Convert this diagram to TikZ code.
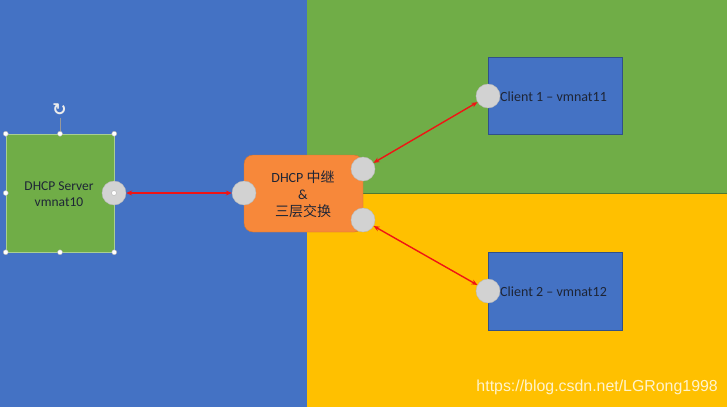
\documentclass[tikz,border=0pt]{standalone}
\usepackage{fontspec}
\setmainfont{Carlito}
\newfontfamily\cjk{Noto Sans CJK SC}
\newfontfamily\wm{Liberation Sans}
\newfontfamily\djv{DejaVu Sans}
\usetikzlibrary{arrows.meta}
\definecolor{bgblue}{HTML}{4472C4}
\definecolor{bggreen}{HTML}{70AD47}
\definecolor{bgyellow}{HTML}{FFC000}
\definecolor{orangebox}{HTML}{F7883A}
\definecolor{portgray}{HTML}{D2D2D2}
\definecolor{txt}{HTML}{1E2536}
\tikzset{
  port/.style={circle, fill=portgray, draw=gray!55, line width=0.4pt, minimum size=24pt, inner sep=0pt},
  handle/.style={circle, fill=white, draw=gray!60, line width=0.4pt, minimum size=5pt, inner sep=0pt},
  link/.style={draw={rgb,255:red,240;green,20;blue,20}, line width=1.4pt, {Stealth[length=6pt,width=5pt]}-{Stealth[length=6pt,width=5pt]}},
  lbl/.style={text=txt, font=\fontsize{14}{17}\selectfont, align=center},
}
\begin{document}
\begin{tikzpicture}[x=1pt,y=-1pt]
\useasboundingbox (0,0) rectangle (727,407);
% backgrounds
\fill[bgblue] (0,0) rectangle (307,407);
\fill[bggreen] (307,0) rectangle (727,193);
\fill[bgyellow] (307,193) rectangle (727,407);
\draw[bggreen!70!black, line width=0.4pt] (307,193) -- (727,193);
% DHCP server box
\node[draw=bggreen!60!white, line width=0.5pt, fill=bggreen, minimum width=108pt, minimum height=118pt, inner sep=0pt] (srv) at (60,193) {};
\node[lbl, font=\fontsize{13.5}{16}\selectfont] (srvt) at (59,194) {DHCP Server\\vmnat10};
\coordinate (rot) at (59.5,110);
\draw[gray!80, line width=0.5pt] (srv.north) -- ++(0,-16);
\node[text=white!85!gray, font=\djv\fontsize{17}{17}\selectfont\bfseries, inner sep=0pt] (rotsym) at (rot) {↻};
\foreach \a in {north west,north,north east,west,south west,south,south east}
  \node[handle] at (srv.\a) {};
% relay box
\node[rounded corners=9pt, fill=orangebox, draw=orangebox!85!black, line width=0.4pt, minimum width=119pt, minimum height=77pt, inner sep=0pt] (relay) at (303.5,193.5) {};
\node[lbl] (relayt) at (303,194) {DHCP {\cjk 中继}\\\&\\{\cjk 三层交换}};
% clients
\node[fill=bgblue, draw=bgblue!70!black, line width=0.5pt, minimum width=134pt, minimum height=77pt, inner sep=0pt] (c1) at (555,95.5) {};
\node[fill=bgblue, draw=bgblue!70!black, line width=0.5pt, minimum width=134pt, minimum height=78pt, inner sep=0pt] (c2) at (555,291) {};
\node[lbl, anchor=west, inner sep=0pt] (c1t) at (500,97) {Client 1 – vmnat11};
\node[lbl, anchor=west, inner sep=0pt] (c2t) at (500,292) {Client 2 – vmnat12};
% ports
\node[port] (ps) at (114,193) {};
\node[handle] at (ps) {};
\node[port] (pr) at (244,193) {};
\node[port] (pr1) at (363,169) {};
\node[port] (pr2) at (363,220) {};
\node[port] (pc1) at (488,96) {};
\node[port] (pc2) at (488,291) {};
% links
\draw[link] (ps) -- (pr);
\draw[link] (pr1) -- (pc1);
\draw[link] (pr2) -- (pc2);
% watermark
\node[text=white!80!bgyellow, font=\wm\fontsize{15.9}{16}\selectfont, anchor=east, inner sep=0pt] (wmk) at (718,387) {https://blog.csdn.net/LGRong1998};
\end{tikzpicture}
\end{document}
